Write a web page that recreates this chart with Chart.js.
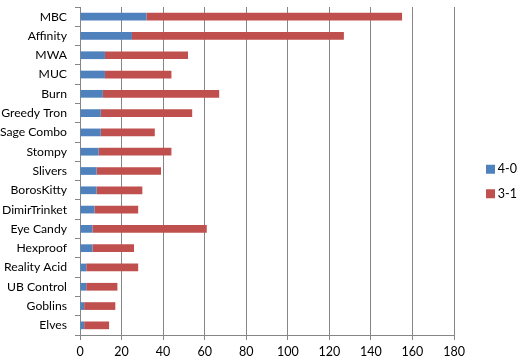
<!DOCTYPE html>
<html>
<head>
<meta charset="utf-8">
<script src="https://cdn.jsdelivr.net/npm/chart.js@4"></script>
<style>
html,body{margin:0;padding:0;background:#fff;}
#wrap{width:517px;height:362px;position:relative;}
</style>
</head>
<body>
<div id="wrap"><canvas id="c" width="517" height="362"></canvas></div>
<script>
const categories = ["MBC","Affinity","MWA","MUC","Burn","Greedy Tron","Sage Combo","Stompy","Slivers","BorosKitty","DimirTrinket","Eye Candy","Hexproof","Reality Acid","UB Control","Goblins","Elves"];
const series40 = [32,25,12,12,11,10,10,9,8,8,7,6,6,3,3,2,2];
const series31 = [123,102,40,32,56,44,26,35,31,22,21,55,20,25,15,15,12];
const xTicks = [0,20,40,60,80,100,120,140,160,180];

const FONT = "Lato, 'Liberation Sans', sans-serif";
const gridColor = "#868686";

const shiftLegend = {
  id: 'shiftLegend',
  beforeDraw(chart) {
    const lg = chart.legend;
    if (lg && !lg._shifted) {
      const dx = 489.5 - (lg.left + lg.options.labels.padding);
      const dy = -3;
      lg.left += dx; lg.right += dx;
      lg.top += dy; lg.bottom += dy;
      lg._shifted = true;
    }
  }
};

new Chart(document.getElementById('c'), {
  type: 'bar',
  data: {
    labels: categories,
    datasets: [
      {label: '4-0', data: series40, backgroundColor: '#4F81BD', categoryPercentage: 1, barPercentage: 0.4},
      {label: '3-1', data: series31, backgroundColor: '#C0504D', categoryPercentage: 1, barPercentage: 0.4}
    ]
  },
  plugins: [shiftLegend],
  options: {
    indexAxis: 'y',
    responsive: false,
    animation: false,
    devicePixelRatio: 1,
    layout: {padding: {top: 7, right: 13.6, left: 0, bottom: 0}},
    plugins: {
      tooltip: {enabled: false},
      legend: {
        position: 'right',
        labels: {
          usePointStyle: true, pointStyle: 'rect',
          boxWidth: 2, boxHeight: 9, padding: 12,
          color: '#000',
          font: {family: FONT, size: 12.5}
        }
      }
    },
    scales: {
      x: {
        stacked: true,
        min: 0, max: 180,
        afterBuildTicks: (s) => { s.ticks = xTicks.map(v => ({value: v})); },
        grid: {color: gridColor, lineWidth: 1, drawTicks: true, tickLength: 5, tickColor: gridColor},
        border: {color: gridColor, width: 1},
        ticks: {color: '#000', font: {family: FONT, size: 12.5}, padding: 4, maxRotation: 0},
        afterFit: (s) => { s.height = 27; s.paddingLeft = 0; s.paddingRight = 0; }
      },
      y: {
        stacked: true,
        grid: {drawOnChartArea: false, drawTicks: true, tickLength: 5, color: gridColor, offset: true},
        border: {color: gridColor, width: 1},
        ticks: {color: '#000', font: {family: FONT, size: 12.2}, padding: 8, autoSkip: false},
        afterFit: (s) => { s.width = 80; s.paddingTop = 0; s.paddingBottom = 0; }
      }
    }
  }
});
</script>
</body>
</html>
